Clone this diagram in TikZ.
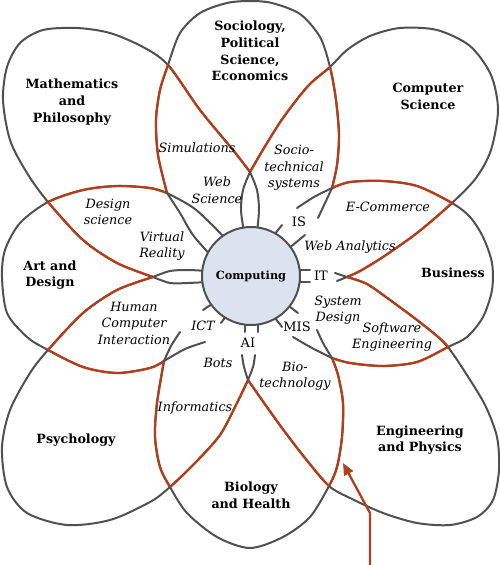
\documentclass[tikz,border=0pt]{standalone}
\usepackage{fontspec}
\setmainfont{DejaVu Serif}
\usetikzlibrary{arrows.meta}
\definecolor{gcol}{RGB}{80,80,80}
\definecolor{rcol}{RGB}{178,62,26}
\definecolor{cfill}{RGB}{221,226,239}
% petal outlines (from one junction to the next)
\newcommand\PSoc{plot[smooth] coordinates {(167,193) (158,155) (156,120) (160,90) (168,65) (180,33) (200,13) (227,3) (250,1) (272,3) (300,14) (320,37) (330,67) (336,100) (339,135) (337,165) (332,188)}}
\newcommand\PCS{plot[smooth] coordinates {(250,172) (264,148) (283,118) (308,86) (330,67) (347,50) (370,36) (400,28) (437,30) (470,46) (491,75) (498,110) (491,150) (476,178) (452,203) (417,233) (383,257) (360,271) (347,277)}}
\newcommand\PBus{plot[smooth] coordinates {(332,188) (350,182) (383,181) (417,186) (452,203) (470,217) (483,237) (492,263) (492,290) (483,317) (467,337) (448,347) (417,362) (383,366) (350,363) (332,358)}}
\newcommand\PEng{plot[smooth] coordinates {(347,277) (367,284) (390,300) (417,320) (437,336) (448,347) (465,372) (485,405) (497,437) (499,470) (493,500) (477,517) (450,525) (417,523) (383,513) (350,498) (329,486) (305,458) (282,428) (262,400) (248,380)}}
\newcommand\PBio{plot[smooth] coordinates {(332,358) (338,375) (343,403) (342,437) (337,467) (329,486) (310,517) (283,537) (250,548) (217,537) (187,513) (170,487) (160,467) (155,437) (157,403) (164,361)}}
\newcommand\PPsy{plot[smooth] coordinates {(248,380) (236,405) (220,435) (196,462) (170,487) (150,502) (110,520) (67,525) (27,513) (7,487) (2,447) (10,410) (30,373) (48,350) (83,313) (117,290) (153,277)}}
\newcommand\PArt{plot[smooth] coordinates {(167,193) (150,188) (117,186) (83,190) (48,202) (20,223) (5,250) (2,277) (7,313) (27,337) (48,350) (83,367) (117,373) (150,368) (164,361)}}
\newcommand\PMath{plot[smooth] coordinates {(153,277) (117,263) (83,240) (48,202) (27,173) (10,140) (3,100) (7,67) (20,43) (43,30) (77,28) (110,33) (143,47) (168,65) (200,110) (233,150) (250,172)}}
\begin{document}
\begin{tikzpicture}[x=1pt,y=-1pt,
  gl/.style={draw=gcol,line width=2pt,line cap=round},
  rl/.style={draw=rcol,line width=2.3pt,line cap=round},
  lab/.style={font=\bfseries\fontsize{12.7}{16.8}\selectfont,align=center,inner sep=0pt},
  itl/.style={font=\itshape\fontsize{12.8}{16.5}\selectfont,align=center,inner sep=0pt},
  upl/.style={font=\fontsize{13}{16}\selectfont,inner sep=0pt}]
\useasboundingbox (0,0) rectangle (500,565);
% grey petals
\draw[gl] \PSoc; \draw[gl] \PCS; \draw[gl] \PBus; \draw[gl] \PEng;
\draw[gl] \PBio; \draw[gl] \PPsy; \draw[gl] \PArt; \draw[gl] \PMath;
% red parts: petal sides lying inside a neighbouring petal
\begin{scope}\clip \PSoc -- (250,172) -- cycle; \draw[rl] \PMath; \draw[rl] \PCS; \end{scope}
\begin{scope}\clip \PCS -- (332,188) -- cycle; \draw[rl] \PSoc; \draw[rl] \PBus; \end{scope}
\begin{scope}\clip \PBus -- (347,277) -- cycle; \draw[rl] \PCS; \draw[rl] \PEng; \end{scope}
\begin{scope}\clip \PEng -- (332,358) -- cycle; \draw[rl] \PBus; \draw[rl] \PBio; \end{scope}
\begin{scope}\clip \PBio -- (248,380) -- cycle; \draw[rl] \PEng; \draw[rl] \PPsy; \end{scope}
\begin{scope}\clip \PPsy -- (164,361) -- cycle; \draw[rl] \PBio; \draw[rl] \PArt; \end{scope}
\begin{scope}\clip \PArt -- (153,277) -- cycle; \draw[rl] \PPsy; \draw[rl] \PMath; \end{scope}
\begin{scope}\clip \PMath -- (167,193) -- cycle; \draw[rl] \PArt; \draw[rl] \PSoc; \end{scope}
% stems to the hub
\draw[gl] plot[smooth] coordinates {(250,172) (243,190) (241,210) (244,232)};
\draw[gl] plot[smooth] coordinates {(250,172) (257,190) (259,210) (257,232)};
\draw[gl] plot[smooth] coordinates {(153,277) (170,271) (188,270) (207,271)};
\draw[gl] plot[smooth] coordinates {(153,277) (170,283) (188,283) (207,282)};
\draw[gl] plot[smooth] coordinates {(167,193) (195,209) (224,237)};
\draw[gl] plot[smooth] coordinates {(167,193) (180,213) (193,235) (213,258)};
% IS
\draw[gl] plot[smooth] coordinates {(332,188) (314,197) (297,208)};
\draw[gl] plot[smooth] coordinates {(332,188) (325,203) (318,218)};
\draw[gl] (274,235) -- (282,225); \draw[gl] (288,249) -- (305,235);
% IT
\draw[gl] (347,277) -- (335,273); \draw[gl] (347,277) -- (337,281);
\draw[gl] (295,270) -- (310,270); \draw[gl] (295,282) -- (310,282);
% MIS
\draw[gl] plot[smooth] coordinates {(332,358) (312,348) (293,337)};
\draw[gl] plot[smooth] coordinates {(332,358) (323,343) (317,330)};
\draw[gl] (285,303) -- (298,313); \draw[gl] (272,314) -- (282,327);
% AI
\draw[gl] plot[smooth] coordinates {(248,380) (244,367) (242,355)};
\draw[gl] plot[smooth] coordinates {(248,380) (253,367) (255,355)};
\draw[gl] (245,318) -- (245,332); \draw[gl] (258,318) -- (258,332);
% ICT
\draw[gl] plot[smooth] coordinates {(164,361) (171,346) (180,332)};
\draw[gl] plot[smooth] coordinates {(164,361) (185,349) (205,342)};
\draw[gl] (215,302) -- (203,310); \draw[gl] (229,312) -- (221,323);
% hub
\node[circle,draw=gcol,fill=cfill,line width=2pt,minimum size=98pt,inner sep=0pt,
      font=\bfseries\fontsize{11.3}{14}\selectfont] (comp) at (251,276) {Computing};
% arrow
\coordinate (arrS) at (370,567);
\coordinate (arrK) at (370,513);
\coordinate (arrT) at (343,463);
\draw[rl,line cap=butt,-{Triangle[length=12pt,width=10pt]}] (arrS) -- (arrK) -- (arrT);
% discipline labels
\node[lab] (soc) at (250,51) {Sociology,\\Political\\Science,\\Economics};
\node[lab] (math) at (72,102) {Mathematics\\and\\Philosophy};
\node[lab] (cs) at (428,96) {Computer\\Science};
\node[lab] (bus) at (453,273) {Business};
\node[lab] (art) at (50,275) {Art and\\Design};
\node[lab] (psy) at (76,440) {Psychology};
\node[lab] (bio) at (251,495) {Biology\\and Health};
\node[lab] (eng) at (420,440) {Engineering\\and Physics};
% overlap labels
\node[itl] (sim) at (197,148) {Simulations};
\node[itl] (web) at (217,190) {Web\\Science};
\node[itl] (stech) at (294,168) {Socio-\\technical\\systems};
\node[itl] (ecom) at (388,207) {E-Commerce};
\node[itl] (wan) at (350,247) {Web Analytics};
\node[itl] (sysd) at (338,310) {System\\Design};
\node[itl] (swe) at (392,337) {Software\\Engineering};
\node[itl] (biot) at (295,376) {Bio-\\technology};
\node[itl] (bots) at (218,363) {Bots};
\node[itl] (inf) at (195,408) {Informatics};
\node[itl] (hci) at (134,323) {Human\\Computer\\Interaction};
\node[itl] (dsci) at (108,212) {Design\\science};
\node[itl] (vr) at (162,246) {Virtual\\Reality};
% stem labels
\node[upl] (is) at (299,222) {IS};
\node[upl] (it) at (321,276) {IT};
\node[upl] (mis) at (297,327) {MIS};
\node[upl] (ai) at (248,343) {AI};
\node[itl] (ict) at (203,326) {ICT};
\end{tikzpicture}
\end{document}
